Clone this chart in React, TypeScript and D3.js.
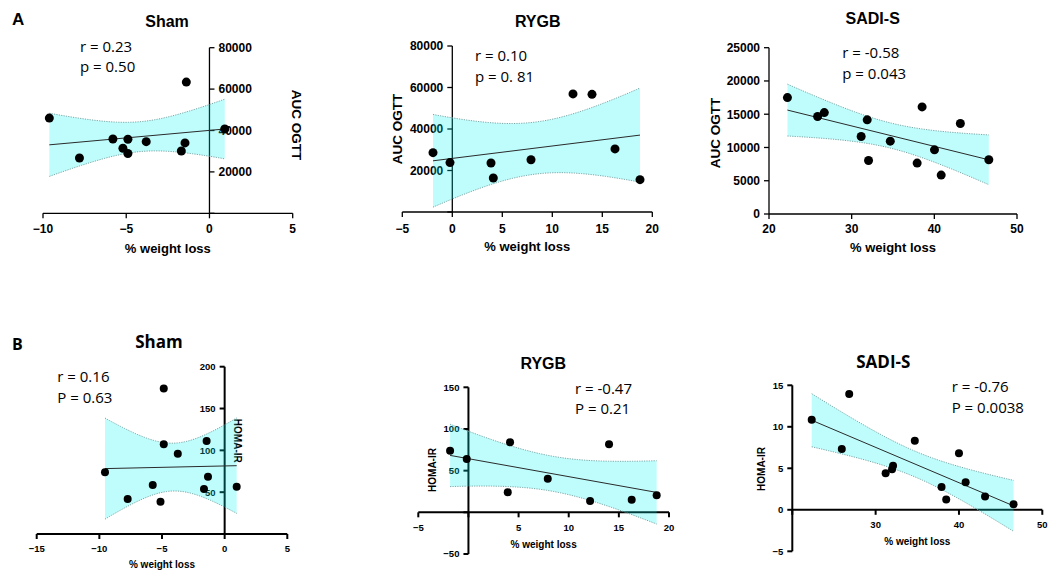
import React from "react";
import * as d3 from "d3";

// ---------------- data ----------------
const shamWeightLossA = [-9.62, -7.81, -5.8, -5.2, -4.9, -4.9, -3.8, -1.69, -1.47, -1.39, 0.92];
const shamAucOgtt = [46000, 26700, 35900, 31400, 35800, 28900, 34600, 30100, 34000, 63400, 40700];

const rygbWeightLossA = [-1.93, -0.23, 3.87, 4.1, 7.87, 12.07, 13.97, 16.27, 18.77];
const rygbAucOgtt = [28600, 23800, 23600, 16400, 25200, 56900, 56700, 30400, 15600];

const sadiWeightLossA = [22.23, 25.88, 26.69, 31.15, 31.88, 32.04, 34.67, 37.92, 38.52, 40.02, 40.83, 43.15, 46.59];
const sadiAucOgtt = [17500, 14650, 15250, 11650, 14150, 8050, 10950, 7650, 16100, 9650, 5850, 13600, 8150];

const shamWeightLossB = [-9.55, -7.74, -5.74, -5.12, -4.86, -4.86, -3.74, -1.65, -1.44, -1.33, 0.96];
const shamHomaIr = [73.9, 41.8, 58.6, 38.6, 173.9, 107.2, 96.0, 53.8, 111.2, 68.3, 56.6];

const rygbWeightLossB = [-1.83, -0.17, 3.92, 4.15, 7.91, 12.13, 14.02, 16.28, 18.77];
const rygbHomaIr = [74, 64, 24, 84, 40.4, 13.6, 81.6, 15.2, 20.4];

const sadiWeightLossB = [22.33, 25.94, 26.83, 31.2, 31.97, 32.09, 34.7, 37.91, 38.47, 40.0, 40.8, 43.13, 46.55];
const sadiHomaIr = [10.84, 7.32, 13.96, 4.4, 4.88, 5.32, 8.32, 2.76, 1.24, 6.8, 3.32, 1.6, 0.68];

const groupTitles = ["Sham", "RYGB", "SADI-S"];
const rowLabels = ["A", "B"];
const statsA = [
  ["r = 0.23", "p = 0.50"],
  ["r = 0.10", "p = 0. 81"],
  ["r = -0.58", "p = 0.043"],
];
const statsB = [
  ["r = 0.16", "P = 0.63"],
  ["r = -0.47", "P = 0.21"],
  ["r = -0.76", "P = 0.0038"],
];
const xTicksA = [[-10, -5, 0, 5], [-5, 0, 5, 10, 15, 20], [20, 30, 40, 50]];
const yTicksA = [
  [0, 20000, 40000, 60000, 80000],
  [0, 20000, 40000, 60000, 80000],
  [0, 5000, 10000, 15000, 20000, 25000],
];
const xTicksB = [[-15, -10, -5, 0, 5], [-5, 0, 5, 10, 15, 20], [20, 30, 40, 50]];
const yTicksB = [[0, 50, 100, 150, 200], [-50, 0, 50, 100, 150], [-5, 0, 5, 10, 15]];
const xTitle = "% weight loss";
const yTitleA = "AUC OGTT";
const yTitleB = "HOMA-IR";
// two-sided 95% t critical values by degrees of freedom
const tCritical: Record<number, number> = { 7: 2.365, 9: 2.262, 11: 2.201 };

// ---------------- helpers ----------------
const ARIAL = "'Liberation Sans', Arial, sans-serif";
const CALIBRI = "'Open Sans', 'Noto Sans', sans-serif";

function fit(xs: number[], ys: number[]) {
  const n = xs.length;
  const mx = d3.mean(xs)!;
  const my = d3.mean(ys)!;
  let sxx = 0, sxy = 0;
  xs.forEach((x, i) => { sxx += (x - mx) ** 2; sxy += (x - mx) * (ys[i] - my); });
  const b = sxy / sxx;
  const a = my - b * mx;
  let sse = 0;
  xs.forEach((x, i) => { sse += (ys[i] - a - b * x) ** 2; });
  const s = Math.sqrt(sse / (n - 2));
  const t = tCritical[n - 2] ?? 2.2;
  const half = (x: number) => t * s * Math.sqrt(1 / n + (x - mx) ** 2 / sxx);
  return { a, b, half };
}

type PanelProps = {
  xs: number[]; ys: number[];
  xDomain: [number, number]; xRange: [number, number];
  yDomain: [number, number]; yRange: [number, number];
  xTicks: number[]; yTicks: number[];
  hideX?: number[]; hideY?: number[];
  xAxisAt: number; yAxisAt: number;
  ySide: "left" | "right";
  yTitle: string; yTitleX: number; yTitleY: number; yTitleRot: number; yTitleFs: number;
  title: string; titleX: number; titleY: number; titleFont: string; titleFs: number;
  stats: string[]; statX: number; statY: [number, number];
  tickFs: number; xTickY: number; xTitleY: number; xTitleFs: number;
  dotR: number; axisW: number;
};

function Panel(p: PanelProps) {
  const x = d3.scaleLinear().domain(p.xDomain).range(p.xRange);
  const y = d3.scaleLinear().domain(p.yDomain).range(p.yRange);
  const { a, b, half } = fit(p.xs, p.ys);
  const [x0, x1] = d3.extent(p.xs) as [number, number];
  const samples = d3.range(0, 61).map((i) => x0 + ((x1 - x0) * i) / 60);
  const area = d3.area<number>()
    .x((d) => x(d))
    .y0((d) => y(a + b * d - half(d)))
    .y1((d) => y(a + b * d + half(d)));
  const upper = d3.line<number>().x((d) => x(d)).y((d) => y(a + b * d + half(d)));
  const lower = d3.line<number>().x((d) => x(d)).y((d) => y(a + b * d - half(d)));
  const ax = x(p.yAxisAt);
  const ay = y(p.xAxisAt);
  const fmt = d3.format("d");
  const dir = p.ySide === "left" ? -1 : 1;
  return (
    <g>
      {/* axes */}
      <line x1={x(p.xDomain[0])} x2={x(p.xDomain[1])} y1={ay} y2={ay} stroke="#000" strokeWidth={p.axisW} />
      <line x1={ax} x2={ax} y1={y(p.yDomain[1])} y2={y(p.yDomain[0])} stroke="#000" strokeWidth={p.axisW} />
      {p.xTicks.map((t) => (
        <g key={"xt" + t}>
          <line x1={x(t)} x2={x(t)} y1={ay} y2={ay + 5} stroke="#000" strokeWidth={p.axisW} />
          {!(p.hideX || []).includes(t) && (
            <text x={x(t)} y={p.xTickY} textAnchor="middle" fontFamily={ARIAL} fontWeight="bold" fontSize={p.tickFs}>
              {fmt(t)}
            </text>
          )}
        </g>
      ))}
      {p.yTicks.map((t) => (
        <g key={"yt" + t}>
          <line x1={ax} x2={ax + dir * 5} y1={y(t)} y2={y(t)} stroke="#000" strokeWidth={p.axisW} />
          {!(p.hideY || []).includes(t) && (
            <text x={ax + dir * 9} y={y(t)} dy="0.36em" textAnchor={p.ySide === "left" ? "end" : "start"}
              fontFamily={ARIAL} fontWeight="bold" fontSize={p.tickFs}>
              {fmt(t)}
            </text>
          )}
        </g>
      ))}
      <text x={(p.xRange[0] + p.xRange[1]) / 2} y={p.xTitleY} textAnchor="middle" fontFamily={ARIAL}
        fontWeight="bold" fontSize={p.xTitleFs}>{xTitle}</text>
      <text transform={`translate(${p.yTitleX},${p.yTitleY}) rotate(${p.yTitleRot})`} textAnchor="middle"
        dy="0.36em" fontFamily={ARIAL} fontWeight="bold" fontSize={p.yTitleFs}>{p.yTitle}</text>
      <text x={p.titleX} y={p.titleY} textAnchor="middle" fontFamily={p.titleFont} fontWeight="bold"
        fontSize={p.titleFs}>{p.title}</text>
      <text x={p.statX} y={p.statY[0]} fontFamily={CALIBRI} fontSize={15}>{p.stats[0]}</text>
      <text x={p.statX} y={p.statY[1]} fontFamily={CALIBRI} fontSize={15}>{p.stats[1]}</text>
      {/* confidence band */}
      <path d={area(samples) || ""} fill="#00f6f6" fillOpacity={0.25} />
      <path d={upper(samples) || ""} fill="none" stroke="#6f9c9c" strokeWidth={0.9} strokeDasharray="1.2,1.2" />
      <path d={lower(samples) || ""} fill="none" stroke="#6f9c9c" strokeWidth={0.9} strokeDasharray="1.2,1.2" />
      <line x1={x(x0)} x2={x(x1)} y1={y(a + b * x0)} y2={y(a + b * x1)} stroke="#2a2a2a" strokeWidth={1} />
      {p.xs.map((d, i) => (
        <circle key={i} cx={x(d)} cy={y(p.ys[i])} r={p.dotR} fill="#000" />
      ))}
    </g>
  );
}

export default function App() {
  const common = { titleFs: 16 };
  return (
    <svg width={1048} height={576} style={{ position: "absolute", left: 0, top: 0, background: "#fff" }}>
      <rect width={1048} height={576} fill="#fff" />
      <text x={12} y={25} fontFamily={ARIAL} fontWeight="bold" fontSize={17}>{rowLabels[0]}</text>
      <text x={12} y={349.5} fontFamily={CALIBRI} fontWeight="bold" fontSize={16}>{rowLabels[1]}</text>

      <Panel xs={shamWeightLossA} ys={shamAucOgtt} xDomain={[-10, 5]} xRange={[43, 292.7]}
        yDomain={[0, 80000]} yRange={[213.3, 47.7]} xTicks={xTicksA[0]} yTicks={yTicksA[0]} hideY={[0]}
        xAxisAt={0} yAxisAt={0} ySide="right" yTitle={yTitleA} yTitleX={296.7} yTitleY={125} yTitleRot={90}
        yTitleFs={13.5} title={groupTitles[0]} titleX={167} titleY={26.7} titleFont={ARIAL} {...common}
        stats={statsA[0]} statX={80} statY={[52.3, 72.3]} tickFs={12} xTickY={233.3} xTitleY={252.5}
        xTitleFs={13} dotR={4.5} axisW={1.3} />
      <Panel xs={rygbWeightLossA} ys={rygbAucOgtt} xDomain={[-5, 20]} xRange={[402.3, 652.3]}
        yDomain={[0, 80000]} yRange={[212, 46]} xTicks={xTicksA[1]} yTicks={yTicksA[1]} hideY={[0]}
        xAxisAt={0} yAxisAt={0} ySide="left" yTitle={yTitleA} yTitleX={396.7} yTitleY={129} yTitleRot={-90}
        yTitleFs={13.5} title={groupTitles[1]} titleX={537.7} titleY={27.3} titleFont={ARIAL} {...common}
        stats={statsA[1]} statX={475} statY={[60.7, 81.7]} tickFs={12} xTickY={232.7} xTitleY={250.5}
        xTitleFs={13} dotR={4.5} axisW={1.3} />
      <Panel xs={sadiWeightLossA} ys={sadiAucOgtt} xDomain={[20, 50]} xRange={[769, 1017]}
        yDomain={[0, 25000]} yRange={[214, 47.7]} xTicks={xTicksA[2]} yTicks={yTicksA[2]}
        xAxisAt={0} yAxisAt={20} ySide="left" yTitle={yTitleA} yTitleX={715} yTitleY={133} yTitleRot={-90}
        yTitleFs={13.5} title={groupTitles[2]} titleX={872.7} titleY={24.3} titleFont={ARIAL} {...common}
        stats={statsA[2]} statX={842.3} statY={[58.3, 79]} tickFs={12} xTickY={233.3} xTitleY={252.3}
        xTitleFs={13} dotR={4.5} axisW={1.3} />

      <Panel xs={shamWeightLossB} ys={shamHomaIr} xDomain={[-15, 5]} xRange={[36.7, 287.3]}
        yDomain={[0, 200]} yRange={[534, 366.7]} xTicks={xTicksB[0]} yTicks={yTicksB[0]} hideY={[0]}
        xAxisAt={0} yAxisAt={0} ySide="left" yTitle={yTitleB} yTitleX={237.3} yTitleY={440.8} yTitleRot={90}
        yTitleFs={10} title={groupTitles[0]} titleX={159} titleY={348.3} titleFont={CALIBRI} titleFs={17}
        stats={statsB[0]} statX={57.3} statY={[381.7, 402.7]} tickFs={9.5} xTickY={552.3} xTitleY={568.3}
        xTitleFs={10} dotR={4} axisW={2} />
      <Panel xs={rygbWeightLossB} ys={rygbHomaIr} xDomain={[-5, 20]} xRange={[418.3, 669]}
        yDomain={[-50, 150]} yRange={[554, 387.3]} xTicks={xTicksB[1]} yTicks={yTicksB[1]} hideX={[0]} hideY={[0]}
        xAxisAt={0} yAxisAt={0} ySide="left" yTitle={yTitleB} yTitleX={432.3} yTitleY={470} yTitleRot={-90}
        yTitleFs={10} title={groupTitles[1]} titleX={543.3} titleY={369.3} titleFont={ARIAL} titleFs={16}
        stats={statsB[1]} statX={575} statY={[394, 414.3]} tickFs={9.5} xTickY={530.7} xTitleY={547.7}
        xTitleFs={10} dotR={4} axisW={2} />
      <Panel xs={sadiWeightLossB} ys={sadiHomaIr} xDomain={[20, 50]} xRange={[792.3, 1042.3]}
        yDomain={[-5, 15]} yRange={[551.3, 385.3]} xTicks={xTicksB[2]} yTicks={yTicksB[2]} hideX={[20]}
        xAxisAt={0} yAxisAt={20} ySide="left" yTitle={yTitleB} yTitleX={761.7} yTitleY={469} yTitleRot={-90}
        yTitleFs={10} title={groupTitles[2]} titleX={883.3} titleY={368.3} titleFont={CALIBRI} titleFs={17}
        stats={statsB[2]} statX={951.7} statY={[392.3, 413.3]} tickFs={9.5} xTickY={528.3} xTitleY={545}
        xTitleFs={10} dotR={4} axisW={2} />
    </svg>
  );
}
